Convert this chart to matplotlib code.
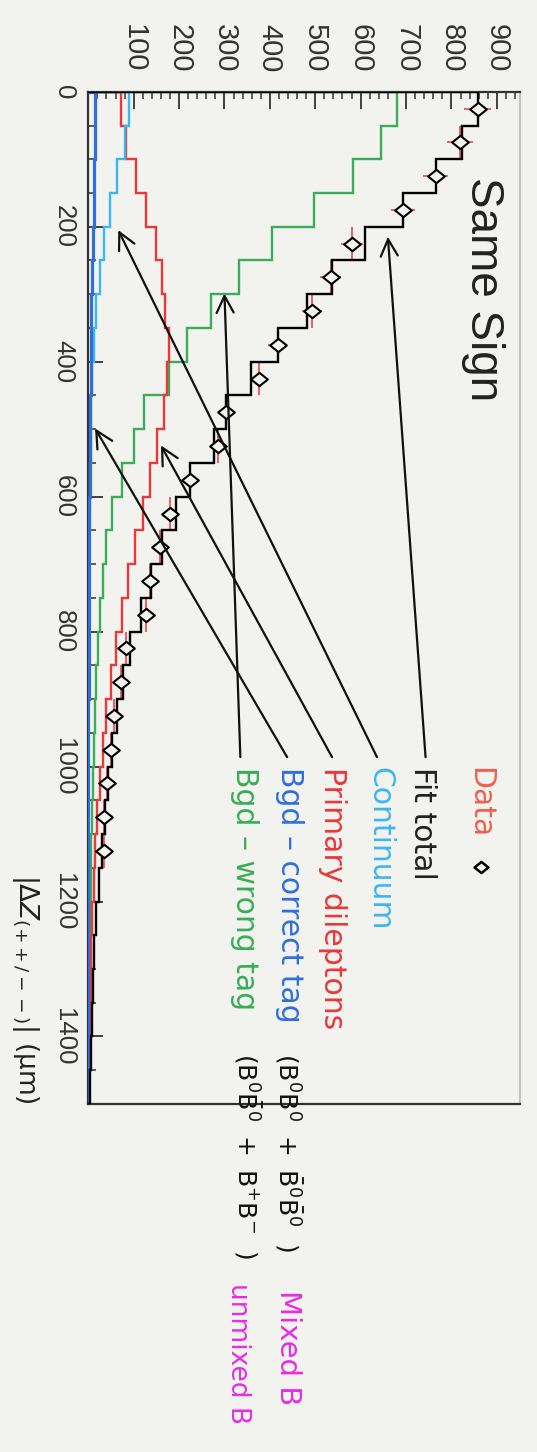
import numpy as np
import matplotlib
matplotlib.use("Agg")
import matplotlib.pyplot as plt
from matplotlib.path import Path
from matplotlib.ticker import MultipleLocator

# ---------------- data ----------------
bin_edges = list(range(0, 1501, 50))          # |dZ| bins (um), 30 bins

wrong_tag = [680, 645, 583, 497, 404, 331, 270, 217, 177, 123, 100, 74, 53, 38, 32,
             26, 22, 18, 15, 12, 10, 8, 6, 5, 4, 3, 2, 2, 1, 1]
primary = [73, 84, 106, 128, 150, 163, 170, 177, 173, 166, 152, 137, 120, 104, 87,
           74, 62, 51, 40, 33, 26, 20, 15, 12, 9, 7, 5, 4, 3, 2]
continuum = [90, 80, 63, 47, 35, 25, 17, 12, 9, 7, 5, 4, 3, 2, 2,
             1, 1, 1, 0, 0, 0, 0, 0, 0, 0, 0, 0, 0, 0, 0]
correct_tag = [15, 14, 13, 12, 10, 9, 7, 6, 5, 4, 3, 3, 2, 2, 1,
               1, 1, 1, 0, 0, 0, 0, 0, 0, 0, 0, 0, 0, 0, 0]
fit_total = [858, 823, 765, 693, 610, 537, 481, 417, 359, 304, 278, 224, 193, 162, 138,
             116, 92, 77, 63, 52, 43, 36, 30, 23, 18, 13, 10, 8, 5, 4]
data = [858, 819, 765, 693, 581, 534, 492, 417, 375, 304, 286, 224, 180, 157, 137,
        127, 84, 71, 56, 49, 42, 35, 34]

count_ticks = [100, 200, 300, 400, 500, 600, 700, 800, 900]
dz_ticks = [0, 200, 400, 600, 800, 1000, 1200, 1400]

legend_labels = ["Fit total", "Continuum", "Primary dileptons",
                 "Bgd \u2013 correct tag", "Bgd \u2013 wrong tag"]
# arrows: (count, |dZ|) of tail and head for each label
arrow_tail_counts = [743, 636, 537, 438, 335]
arrow_tail_dz = 986
arrow_head_counts = [660, 66, 160, 15, 300]
arrow_head_dz = [215, 205, 524, 499, 299]
label_counts = [737, 643, 539, 444, 345]

# ---------------- style ----------------
BG = "#f2f2ef"
C_GREEN = "#3aad56"
C_RED = "#e8383a"
C_CYAN = "#3cb6f0"
C_BLUE = "#2f6fdc"
C_SALMON = "#f0604c"
C_MAG = "#e62ce6"

plt.rcParams["font.family"] = ["DejaVu Sans"]
plt.rcParams["mathtext.fontset"] = "dejavusans"

fig = plt.figure(figsize=(5.37, 14.52), dpi=100, facecolor=BG)
ax = fig.add_axes([0.1644, 0.2397, 0.9683 - 0.1644, 0.9368 - 0.2397])
ax.set_facecolor(BG)
ax.set_xlim(0, 951)
ax.set_ylim(1500, 0)

edges = np.array(bin_edges)
lw = 1.7
ax.stairs(wrong_tag, edges, orientation="horizontal", baseline=0, color=C_GREEN, lw=lw, zorder=3)
ax.stairs(primary, edges, orientation="horizontal", baseline=0, color=C_RED, lw=lw, zorder=3)
ax.stairs(continuum, edges, orientation="horizontal", baseline=0, color=C_CYAN, lw=lw, zorder=3)
ax.stairs(correct_tag, edges, orientation="horizontal", baseline=0, color=C_BLUE, lw=lw + 0.6, zorder=3)

# data error bars (under the fit)
centers = (edges[:-1] + edges[1:]) / 2.0
d = np.array(data, dtype=float)
ax.errorbar(d, centers[:len(d)], xerr=np.sqrt(d), yerr=25, fmt="none",
            ecolor=C_RED, elinewidth=1.1, capsize=0, zorder=4)
ax.stairs(fit_total, edges, orientation="horizontal", baseline=0, color="black", lw=lw, zorder=5)

diamond = Path([(-1, 0), (0, -0.8), (1, 0), (0, 0.8), (-1, 0)],
               [Path.MOVETO, Path.LINETO, Path.LINETO, Path.LINETO, Path.CLOSEPOLY])
ax.plot(d, centers[:len(d)], linestyle="none", marker=diamond, markersize=12,
        mfc=BG, mec="black", mew=1.5, zorder=6)

# ---------------- axes / ticks ----------------
ax.xaxis.tick_top()
ax.xaxis.set_minor_locator(MultipleLocator(20))
ax.set_xticks(count_ticks)
ax.yaxis.set_minor_locator(MultipleLocator(50))
ax.set_yticks(dz_ticks)
ax.tick_params(axis="x", which="major", direction="in", length=12, width=1.3,
               top=True, bottom=False, labeltop=True, labelbottom=False, pad=14,
               labelsize=21, labelrotation=-90, color="#333333")
ax.tick_params(axis="x", which="minor", direction="in", length=5, width=1.1,
               top=True, bottom=False, color="#333333")
ax.tick_params(axis="y", which="major", direction="in", length=11, width=1.3,
               left=True, right=False, pad=9, labelsize=18.5, labelrotation=-90, color="#333333")
ax.tick_params(axis="y", which="minor", direction="in", length=6, width=1.1,
               left=True, right=False, color="#333333")
for lab in ax.get_xticklabels() + ax.get_yticklabels():
    lab.set_fontfamily("Liberation Sans")
    lab.set_color("#333333")
for lab in ax.get_yticklabels():
    lab.set_va("center")

for s in ["left", "top", "bottom"]:
    ax.spines[s].set_color("#333333")
    ax.spines[s].set_linewidth(1.6)
ax.spines["right"].set_color("#b8b8b8")
ax.spines["right"].set_linewidth(1.2)

# ---------------- texts ----------------
ax.text(870, 126, "Same Sign", rotation=-90, ha="center", va="top",
        fontsize=33, family="Liberation Sans", color="#222222", zorder=7)

ax.text(863, 1000, "Data", rotation=-90, ha="center", va="top", fontsize=21.5,
        color=C_SALMON, clip_on=False)
ax.plot([866], [1149], linestyle="none", marker=diamond, markersize=10,
        mfc=BG, mec="black", mew=1.8, clip_on=False, zorder=7)

label_colors = ["#222222", C_CYAN, C_RED, C_BLUE, C_GREEN]
for lbl, xc, col in zip(legend_labels, label_counts, label_colors):
    ax.text(xc, 1000, lbl, rotation=-90, ha="center", va="top", fontsize=21.5,
            color=col, clip_on=False)

for tc, hc, hz in zip(arrow_tail_counts, arrow_head_counts, arrow_head_dz):
    ax.annotate("", xy=(hc, hz), xytext=(tc, arrow_tail_dz),
                arrowprops=dict(arrowstyle="->,head_length=0.55,head_width=0.28",
                                color="#111111", lw=1.6, shrinkA=0, shrinkB=0,
                                mutation_scale=22),
                annotation_clip=False, zorder=8)

ax.text(441, 1424, r"$(\mathrm{B^0B^0}\ +\ \mathrm{\bar{B}^0\bar{B}^0}\ \ )$", rotation=-90,
        ha="center", va="top", fontsize=18, color="#111111", clip_on=False)
ax.text(350, 1424, r"$(\mathrm{B^0\bar{B}^0}\ +\ \mathrm{B^{+}B^{-}}\ \ )$", rotation=-90,
        ha="center", va="top", fontsize=18, color="#111111", clip_on=False)
ax.text(441, 1775, "Mixed B", rotation=-90, ha="center", va="top", fontsize=21,
        color=C_MAG, clip_on=False)
ax.text(330, 1765, "unmixed B", rotation=-90, ha="center", va="top", fontsize=19,
        color=C_MAG, clip_on=False)

ax.text(-139, 1500, r"$|\Delta Z_{(++/--)}|$" + " (\u03bcm)", rotation=-90,
        ha="center", va="bottom", fontsize=19, color="#222222", clip_on=False)

fig.savefig("out.png", dpi=100, facecolor=BG)
